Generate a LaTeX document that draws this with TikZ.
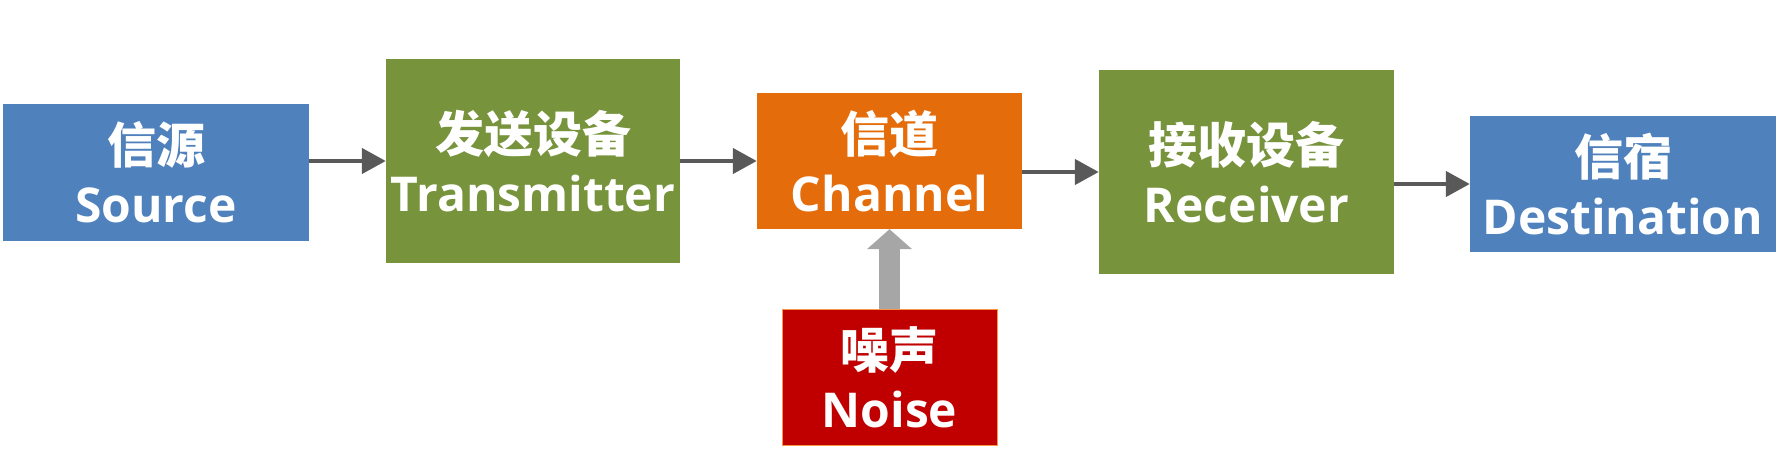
\documentclass[tikz,border=0pt]{standalone}
\usepackage{fontspec}
\setmainfont{Open Sans}
\newfontfamily\cjk{Noto Sans CJK SC}
\usetikzlibrary{arrows.meta}
\definecolor{cblue}{HTML}{4F81BD}
\definecolor{cgreen}{HTML}{77933C}
\definecolor{corange}{HTML}{E46C0A}
\definecolor{cred}{HTML}{C00000}
\definecolor{cnoiseedge}{HTML}{F79646}
\definecolor{cdark}{HTML}{595959}
\definecolor{cgray}{HTML}{A6A6A6}
\newcommand{\lbl}[2]{{\cjk\fontsize{49}{59}\selectfont\bfseries #1}\\{\fontsize{48}{59}\selectfont\bfseries #2}}
\begin{document}
\begin{tikzpicture}[x=1pt,y=-1pt,
  blk/.style={inner sep=0pt, text=white, align=center, font=\fontsize{48}{59}\selectfont},
  flow/.style={draw=cdark, line width=4.5pt, -{Triangle[length=24pt,width=25pt]}},
  noisearrow/.style={draw=cgray, line width=21pt, -{Triangle[length=20pt,width=44pt]}}]
\useasboundingbox (0,0) rectangle (1782,452);
\node[blk, fill=cblue, minimum width=306pt, minimum height=137pt] (src) at (156,172.5) {\lbl{信源}{Source}};
\node[blk, fill=cgreen, minimum width=294pt, minimum height=204pt] (tx) at (533,161) {\lbl{发送设备}{Transmitter}};
\node[blk, fill=corange, minimum width=265pt, minimum height=136pt] (ch) at (889.5,161) {\lbl{信道}{Channel}};
\node[blk, fill=cgreen, minimum width=295pt, minimum height=204pt] (rx) at (1246.5,172) {\lbl{接收设备}{Receiver}};
\node[blk, fill=cblue, minimum width=306pt, minimum height=136pt] (dst) at (1623,184) {\lbl{信宿}{Destination}};
\node[blk, fill=cred, draw=cnoiseedge, line width=1pt, minimum width=215pt, minimum height=136pt] (noise) at (889.5,377) {\lbl{噪声}{Noise}};
\draw[flow] (tx.west -| src.east) -- (tx.west);
\draw[flow] (ch.west -| tx.east) -- (ch.west);
\draw[flow] (rx.west -| ch.east) -- (rx.west);
\draw[flow] (dst.west -| rx.east) -- (dst.west);
\draw[noisearrow] (noise.north) -- (ch.south);
\end{tikzpicture}
\end{document}
